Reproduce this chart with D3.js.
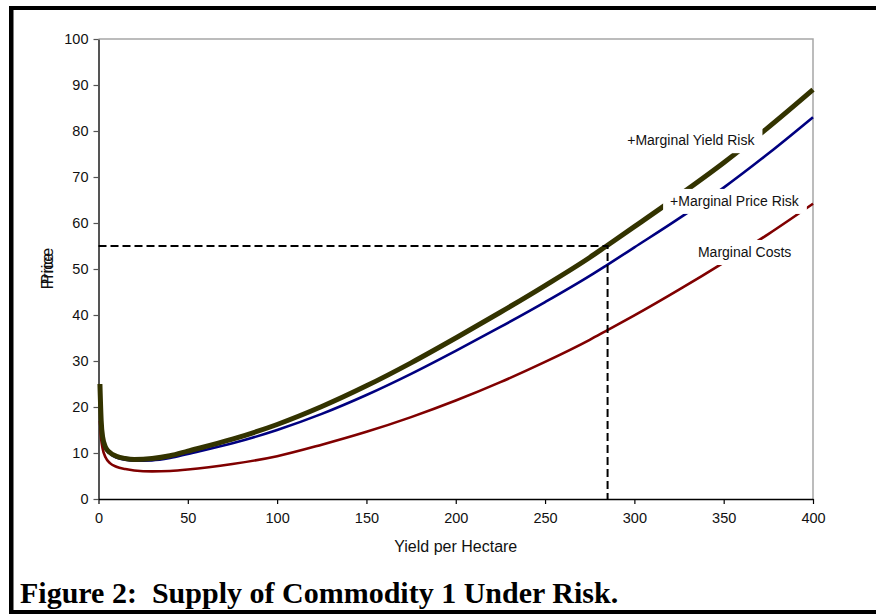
<!DOCTYPE html>
<html><head><meta charset="utf-8">
<script src="https://cdn.jsdelivr.net/npm/d3@7"></script>
<style>
html,body{margin:0;padding:0;background:#fff;}
svg{display:block;}
</style></head>
<body>
<script>
// ---- data ----
const yieldX = [0.8,1.5,2.3,4,6.4,10,15,20,30,40,50,75,100,125,150,175,200,225,250,275,284,300,325,350,375,400];
const marginalCosts = [17,13,11,9,7.8,7.0,6.5,6.2,6.0,6.1,6.4,7.6,9.3,11.8,14.6,17.8,21.4,25.4,29.8,34.6,36.5,39.9,45.5,51.4,57.6,64.2];
const priceRisk     = [25,16.8,13.3,11,9.9,9.0,8.55,8.35,8.4,8.9,9.8,12.1,15.0,18.5,22.6,27.2,32.2,37.4,42.8,48.5,50.7,54.7,61.0,67.7,75.1,83];
const yieldRisk     = [25,17,13.5,11.2,10.1,9.3,8.8,8.6,8.8,9.4,10.4,13.0,16.2,20.1,24.6,29.6,35.0,40.6,46.4,52.5,54.9,59.2,66.0,73.1,80.8,89];
const seriesNames = ["Marginal Costs","+Marginal Price Risk","+Marginal Yield Risk"];
const seriesColors = ["#800000","#000080","#333300"];
const xTicks = [0,50,100,150,200,250,300,350,400];
const yTicks = [0,10,20,30,40,50,60,70,80,90,100];
const markX = 285, markY = 55;
const xTitle = "Yield per Hectare";
const yTitle = "Price";
const caption = "Figure 2:  Supply of Commodity 1 Under Risk.";

const SANS = "'Liberation Sans', Arial, sans-serif";
const SERIF = "'Liberation Serif', 'Times New Roman', serif";

const W = 876, H = 615;
const svg = d3.select("body").append("svg").attr("width", W).attr("height", H);
svg.append("rect").attr("width", W).attr("height", H).attr("fill", "#fff");

// page border
svg.append("rect").attr("x", 9).attr("y", 6).attr("width", W - 9).attr("height", 4).attr("fill", "#000");
svg.append("rect").attr("x", 9).attr("y", 6).attr("width", 4.5).attr("height", 608).attr("fill", "#000");
svg.append("rect").attr("x", 9).attr("y", 610).attr("width", W - 9).attr("height", 4).attr("fill", "#000");

const L = 98.5, R = 813, T = 39, B = 499;
const x = d3.scaleLinear().domain([0, 400]).range([L, R]);
const y = d3.scaleLinear().domain([0, 100]).range([B, T]);

// frame top/right
svg.append("path").attr("d", `M${L},${T}H${R}V${B}`).attr("fill", "none").attr("stroke", "#a6a6a6").attr("stroke-width", 1.5);

// axes
const yAxis = svg.append("g").attr("transform", `translate(${L},0)`)
  .call(d3.axisLeft(y).tickValues(yTicks).tickSize(5).tickSizeOuter(0).tickPadding(5));
yAxis.select(".domain").attr("stroke", "#555").attr("stroke-width", 2);
yAxis.selectAll(".tick line").attr("stroke", "#555").attr("stroke-width", 1.2);
yAxis.selectAll(".tick text").style("font-size", "14.5px").style("font-family", SANS).attr("fill", "#111");

const xAxis = svg.append("g").attr("transform", `translate(0,${B})`)
  .call(d3.axisBottom(x).tickValues(xTicks).tickSize(5).tickSizeOuter(0).tickPadding(9));
xAxis.select(".domain").attr("stroke", "#000").attr("stroke-width", 1.5);
xAxis.selectAll(".tick line").attr("stroke", "#000").attr("stroke-width", 1.2);
xAxis.selectAll(".tick text").style("font-size", "14.5px").style("font-family", SANS).attr("fill", "#111");

// curves
const line = d3.line().x(d => x(d[0])).y(d => y(d[1])).curve(d3.curveMonotoneX);
const series = [marginalCosts, priceRisk, yieldRisk];
const widths = [2.6, 2.6, 5];
series.forEach((vals, i) => {
  svg.append("path").datum(yieldX.map((xv, j) => [xv, vals[j]]))
    .attr("d", line).attr("fill", "none")
    .attr("stroke", seriesColors[i]).attr("stroke-width", widths[i])
    .attr("stroke-linejoin", "round");
});

// dashed reference lines
svg.append("path")
  .attr("d", `M${x(0)},${y(markY)}H${x(markX)}V${y(0)}`)
  .attr("fill", "none").attr("stroke", "#000").attr("stroke-width", 2)
  .attr("stroke-dasharray", "8,4");

// series labels with white boxes
const labelPos = [[335.6, 53.7], [320, 64.8], [296, 78]];
seriesNames.forEach((name, i) => {
  const g = svg.append("g");
  const t = g.append("text").attr("x", x(labelPos[i][0])).attr("y", y(labelPos[i][1]) + 5)
    .style("font-size", "14px").style("font-family", SANS).attr("fill", "#111").text(name);
  const bb = t.node().getBBox();
  g.insert("rect", "text").attr("x", bb.x - 7).attr("y", y(labelPos[i][1]) - 12)
    .attr("width", bb.width + 14).attr("height", 25).attr("fill", "#fff");
});

// axis titles
svg.append("text").attr("x", (L + R) / 2).attr("y", 552).attr("text-anchor", "middle")
  .style("font-size", "16px").style("font-family", SANS).attr("fill", "#111").text(xTitle);
[0, 5].forEach(off => {
  svg.append("text").attr("transform", `translate(53,${271 - off}) rotate(-90)`)
    .attr("text-anchor", "middle").style("font-size", "16px").style("font-family", SANS)
    .attr("fill", "#111").text(yTitle);
});

// caption
svg.append("text").attr("x", 20).attr("y", 603)
  .style("font-family", SERIF).style("font-weight", "bold")
  .style("font-size", "30px").attr("fill", "#000").style("white-space", "pre").text(caption);
</script>
</body></html>
